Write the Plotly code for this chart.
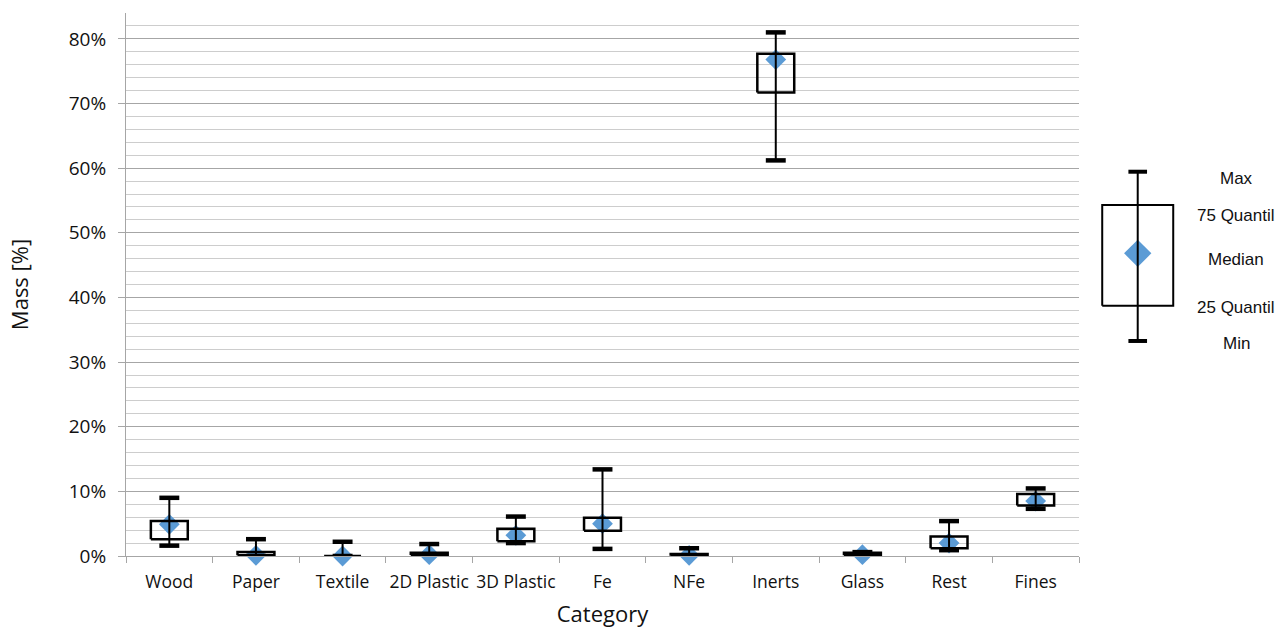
import plotly.graph_objects as go

# Sorting analysis: mass share per material category (min / quartiles / median / max)
categories = ["Wood", "Paper", "Textile", "2D Plastic", "3D Plastic", "Fe",
              "NFe", "Inerts", "Glass", "Rest", "Fines"]
mass_min = [1.6, 0.0, 0.0, 0.1, 2.0, 1.1, 0.0, 61.2, 0.1, 0.9, 7.3]
mass_q25 = [2.6, 0.1, 0.0, 0.15, 2.3, 3.9, 0.05, 71.7, 0.1, 1.2, 7.8]
mass_median = [4.9, 0.1, 0.0, 0.2, 3.2, 5.0, 0.1, 76.8, 0.2, 2.0, 8.5]
mass_q75 = [5.4, 0.6, 0.1, 0.5, 4.2, 5.9, 0.3, 77.7, 0.5, 3.0, 9.6]
mass_max = [9.0, 2.6, 2.2, 1.85, 6.1, 13.4, 1.2, 81.0, 0.6, 5.4, 10.45]

# Key glyph: illustrative sample statistics and their labels
key_labels = ["Min", "25 Quantil", "Median", "75 Quantil", "Max"]
key_sample = [0.396, 0.461, 0.5575, 0.6464, 0.7077]
# vertical nudge (px) of each key label relative to its glyph level
key_label_shift = [-3, -2, -6, -10, -7]

BLUE = "#5B9BD5"
GRID = "#a6a6a6"
MINOR_GRID = "#cdcdcd"
TEXT = "#111111"
FONT = "Open Sans"


def box_glyph(xs, lo, q1, med, q3, hi, box_half, cap_half, box_w, cap_w,
              whisk_w, marker_size, xaxis, yaxis):
    """Diamond median, open quartile box, through-whisker and thick caps."""
    traces = []
    traces.append(go.Scatter(
        x=xs, y=med, mode="markers", xaxis=xaxis, yaxis=yaxis, cliponaxis=False,
        marker=dict(symbol="diamond", size=marker_size, color=BLUE,
                    line=dict(width=0)),
        hoverinfo="skip"))
    bx, by, wx, wy, cx, cy = [], [], [], [], [], []
    for x, a, b, c, d in zip(xs, lo, q1, q3, hi):
        bx += [x - box_half, x + box_half, x + box_half, x - box_half, x - box_half, None]
        by += [b, b, c, c, b, None]
        wx += [x, x, None]
        wy += [a, d, None]
        cx += [x - cap_half, x + cap_half, None, x - cap_half, x + cap_half, None]
        cy += [a, a, None, d, d, None]
    traces.append(go.Scatter(x=wx, y=wy, mode="lines", xaxis=xaxis, yaxis=yaxis,
                             cliponaxis=False,
                             line=dict(color="black", width=whisk_w), hoverinfo="skip"))
    traces.append(go.Scatter(x=bx, y=by, mode="lines", xaxis=xaxis, yaxis=yaxis,
                             cliponaxis=False,
                             line=dict(color="black", width=box_w), hoverinfo="skip"))
    traces.append(go.Scatter(x=cx, y=cy, mode="lines", xaxis=xaxis, yaxis=yaxis,
                             cliponaxis=False,
                             line=dict(color="black", width=cap_w), hoverinfo="skip"))
    return traces


xs = list(range(len(categories)))
fig = go.Figure()
for t in box_glyph(xs, mass_min, mass_q25, mass_median, mass_q75, mass_max,
                   box_half=0.213, cap_half=0.115, box_w=2.5, cap_w=4.5,
                   whisk_w=2, marker_size=16, xaxis="x", yaxis="y"):
    fig.add_trace(t)

# Key on the right
key_x = 0.246
for t in box_glyph([key_x], [key_sample[0]], [key_sample[1]], [key_sample[2]],
                   [key_sample[3]], [key_sample[4]],
                   box_half=0.183, cap_half=0.048, box_w=2, cap_w=4,
                   whisk_w=2, marker_size=21, xaxis="x2", yaxis="y2"):
    fig.add_trace(t)

annotations = []
for lab, val, dy in zip(key_labels, key_sample, key_label_shift):
    annotations.append(dict(
        x=0.753, y=val, xref="x2", yref="y2", text=lab, showarrow=False,
        yshift=dy, font=dict(family="Liberation Sans", size=17, color=TEXT)))

fig.update_layout(
    width=1284, height=628,
    margin=dict(l=126, r=0, t=13, b=72),
    paper_bgcolor="white", plot_bgcolor="white",
    showlegend=False,
    annotations=annotations,
    xaxis=dict(
        domain=[0, 0.82297], range=[-0.5, len(categories) - 0.5],
        tickmode="array", tickvals=xs, ticktext=categories,
        ticks="", showgrid=False, zeroline=False,
        showline=True, linecolor=GRID, linewidth=1,
        minor=dict(tick0=-0.5, dtick=1, ticks="outside", ticklen=6,
                   tickcolor=GRID, tickwidth=1, showgrid=False),
        tickfont=dict(family=FONT, size=17.5, color=TEXT),
        ticklabelstandoff=10,
        title=dict(text="Category", font=dict(family=FONT, size=22, color=TEXT),
                   standoff=21),
    ),
    yaxis=dict(
        range=[0, 84], tick0=0, dtick=10, ticksuffix="%",
        showgrid=True, gridcolor=GRID, gridwidth=1,
        minor=dict(dtick=2, showgrid=True, gridcolor=MINOR_GRID, gridwidth=1,
                   ticks=""),
        zeroline=False, showline=True, linecolor=GRID, linewidth=1,
        ticks="outside", ticklen=7, tickcolor=GRID,
        tickfont=dict(family=FONT, size=19, color=TEXT),
        ticklabelstandoff=8,
        title=dict(text="Mass [%]", font=dict(family=FONT, size=22, color=TEXT),
                   standoff=34),
    ),
    xaxis2=dict(domain=[0.83247, 1], range=[0, 1], anchor="y2",
                visible=False, fixedrange=True),
    yaxis2=dict(domain=[0, 1], range=[0, 1], anchor="x2",
                visible=False, fixedrange=True),
)

fig.write_html("out.html")
